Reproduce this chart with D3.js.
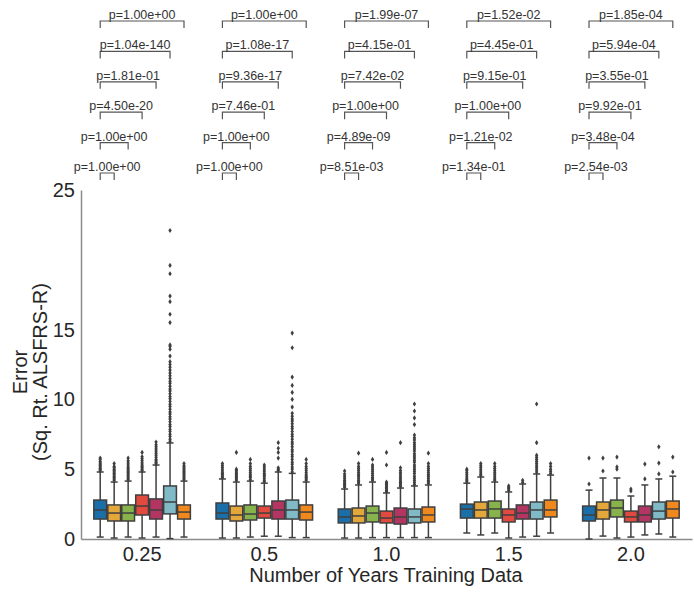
<!DOCTYPE html>
<html>
<head>
<meta charset="utf-8">
<script src="https://cdn.jsdelivr.net/npm/d3@7"></script>
<style>
  body { margin: 0; background: #fff; }
  text { font-family: "Liberation Sans", Arial, sans-serif; }
</style>
</head>
<body>
<div id="chart"></div>
<script>
var width = 694
var height = 592

// categories
var groups = ["0.25", "0.5", "1.0", "1.5", "2.0"]
var hues = ["h1", "h2", "h3", "h4", "h5", "h6", "h7"]
var colors = ["#1b6fa8", "#e3a73a", "#87b24c", "#e24a3f", "#b23562", "#7fbac6", "#f0891d"]
var yTicks = [0, 5, 10, 15, 25]

// box stats, one row per group, one value per hue
var q1 = [
  [1.43, 1.29, 1.29, 1.72, 1.43, 1.80, 1.43],
  [1.43, 1.29, 1.36, 1.50, 1.43, 1.43, 1.36],
  [1.15, 1.15, 1.22, 1.15, 1.07, 1.15, 1.22],
  [1.50, 1.50, 1.50, 1.22, 1.43, 1.43, 1.58],
  [1.29, 1.43, 1.58, 1.22, 1.22, 1.43, 1.50]
]
var med = [
  [2.08, 1.86, 1.86, 2.36, 2.08, 2.65, 1.93],
  [1.86, 1.72, 1.79, 1.86, 2.08, 2.08, 1.93],
  [1.58, 1.65, 1.86, 1.50, 1.58, 1.58, 1.72],
  [2.15, 2.08, 2.15, 1.72, 1.86, 2.08, 2.08],
  [1.72, 2.08, 2.22, 1.58, 1.72, 2.00, 2.15]
]
var q3 = [
  [2.79, 2.44, 2.44, 3.15, 2.87, 3.80, 2.44],
  [2.58, 2.36, 2.44, 2.36, 2.72, 2.79, 2.44],
  [2.15, 2.22, 2.36, 2.00, 2.22, 2.15, 2.29],
  [2.50, 2.65, 2.72, 2.15, 2.44, 2.65, 2.79],
  [2.36, 2.65, 2.79, 2.00, 2.36, 2.65, 2.72]
]
var whiskLo = [
  [0.14, 0.07, 0.14, 0.07, 0.14, 0.03, 0.14],
  [0.07, 0.07, 0.14, 0.20, 0.20, 0.10, 0.10],
  [0.07, 0.07, 0.10, 0.10, 0.10, 0.10, 0.10],
  [0.43, 0.29, 0.43, 0.07, 0.14, 0.20, 0.43],
  [0.00, 0.21, 0.07, 0.14, 0.29, 0.36, 0.14]
]
var whiskHi = [
  [4.80, 4.08, 4.15, 4.80, 5.30, 6.88, 4.15],
  [4.30, 4.08, 4.15, 4.00, 4.80, 4.70, 4.08],
  [3.58, 3.87, 4.08, 3.30, 3.65, 3.80, 3.87],
  [4.00, 4.44, 4.08, 3.37, 3.94, 4.66, 4.58],
  [3.50, 4.37, 4.37, 3.08, 3.87, 4.30, 4.50]
]
var fliers = [
  [
    [4.9, 5.0, 5.05, 5.15, 5.25, 5.35, 5.45, 5.55, 5.7, 5.8],
    [4.2, 4.3, 4.4, 4.5, 4.6, 4.7, 4.8, 4.9, 5.0, 5.1, 5.2, 5.4],
    [4.25, 4.35, 4.45, 4.55, 4.65, 4.75, 4.85, 4.95, 5.05, 5.15, 5.3, 5.45, 5.6, 5.8],
    [4.9, 5.0, 5.1, 5.2, 5.3, 5.45, 5.6, 5.75, 5.9, 6.2],
    [5.4, 5.5, 5.6, 5.7, 5.85, 6.0, 6.15, 6.3, 6.45, 6.6, 6.75, 6.95],
    [7.0, 7.15, 7.35, 7.5, 7.7, 7.85, 8.05, 8.2, 8.4, 8.6, 8.75, 8.95, 9.1, 9.3, 9.5, 9.65, 9.85,
     10.05, 10.2, 10.4, 10.6, 10.75, 10.95, 11.15, 11.3, 11.5, 11.7, 11.9, 12.1, 12.3, 12.5, 12.7,
     13.1, 13.6, 13.8, 13.9, 15.5, 16.1, 17.0, 17.4, 19.0, 19.6, 22.1],
    [4.25, 4.35, 4.45, 4.55, 4.65, 4.75, 4.85, 4.95, 5.05, 5.15, 5.25, 5.4]
  ],
  [
    [4.4, 4.5, 4.6, 4.7, 4.8, 4.95, 5.1, 5.25, 5.4],
    [4.2, 4.3, 4.4, 4.5, 4.6, 4.7, 4.8, 4.9, 5.0, 6.2],
    [4.25, 4.4, 4.5, 4.6, 4.75, 4.9, 5.05, 5.2, 5.4, 5.7],
    [4.1, 4.2, 4.35, 4.5, 4.6, 4.7, 4.85, 5.0, 5.15, 5.3],
    [4.9, 5.0, 5.1, 5.8, 6.2, 6.5, 6.9],
    [4.8, 5.0, 5.15, 5.35, 5.5, 5.7, 5.9, 6.05, 6.25, 6.4, 6.6, 6.8, 6.95, 7.15, 7.35, 7.5, 7.7,
     7.9, 8.05, 8.25, 8.45, 8.6, 8.8, 9.0, 9.45, 10.0, 10.5, 11.0, 11.6, 13.7, 14.75],
    [4.2, 4.3, 4.4, 4.5, 4.6, 4.75, 4.9, 5.05, 5.2, 5.4, 5.7]
  ],
  [
    [3.7, 3.8, 3.9, 4.0, 4.1, 4.2, 4.35, 4.5, 4.65, 4.87],
    [4.0, 4.1, 4.2, 4.35, 4.5, 4.6, 4.75, 4.9, 5.05, 5.2, 5.4, 6.15],
    [4.2, 4.3, 4.4, 4.55, 4.7, 4.85, 5.0, 5.15, 5.3, 5.7],
    [3.4, 3.5, 3.6, 3.7, 3.8, 3.9, 4.0, 4.08, 5.3, 6.2],
    [3.75, 3.85, 3.95, 4.05, 4.15, 4.3, 4.45, 4.6, 4.75, 4.9, 5.1, 6.9],
    [3.9, 4.05, 4.2, 4.35, 4.5, 4.7, 4.85, 5.0, 5.15, 5.3, 5.5, 5.65, 5.8, 5.95, 6.1, 6.3, 6.45,
     6.6, 6.75, 6.9, 7.1, 7.25, 7.45, 8.2, 8.67, 9.17, 9.67],
    [4.0, 4.1, 4.2, 4.35, 4.5, 4.6, 4.75, 4.9, 5.05, 5.2, 5.4, 6.15]
  ],
  [
    [4.1, 4.2, 4.3, 4.45, 4.6, 4.75, 4.9, 5.0],
    [4.55, 4.65, 4.8, 4.95, 5.1, 5.25, 5.4],
    [4.2, 4.3, 4.45, 4.6, 4.75, 4.9, 5.05, 5.2, 5.4],
    [3.5, 3.6, 3.7, 3.8],
    [4.05, 4.2],
    [4.8, 4.95, 5.1, 5.25, 5.4, 5.55, 5.7, 5.85, 6.0, 6.9, 9.67],
    [4.7, 4.85, 5.0, 5.2, 5.4]
  ],
  [
    [3.94, 5.8],
    [4.87, 5.8],
    [5.0, 5.16, 5.87],
    [3.44, 3.58],
    [4.3, 5.37],
    [4.66, 5.44, 6.6],
    [4.8, 5.87]
  ]
]

// p-values: first hue compared against hues 2..7, bottom bracket first
var pvals = [
  ["p=1.00e+00", "p=1.00e+00", "p=4.50e-20", "p=1.81e-01", "p=1.04e-140", "p=1.00e+00"],
  ["p=1.00e+00", "p=1.00e+00", "p=7.46e-01", "p=9.36e-17", "p=1.08e-17", "p=1.00e+00"],
  ["p=8.51e-03", "p=4.89e-09", "p=1.00e+00", "p=7.42e-02", "p=4.15e-01", "p=1.99e-07"],
  ["p=1.34e-01", "p=1.21e-02", "p=1.00e+00", "p=9.15e-01", "p=4.45e-01", "p=1.52e-02"],
  ["p=2.54e-03", "p=3.48e-04", "p=9.92e-01", "p=3.55e-01", "p=5.94e-04", "p=1.85e-04"]
]

var svg = d3.select("#chart")
    .append("svg")
    .attr("width", width)
    .attr("height", height)

var x0 = d3.scaleBand().domain(groups).range([81, 692])
var bw = x0.bandwidth()
var x1 = d3.scaleBand().domain(hues).range([0.1 * bw, 0.9 * bw])
var slot = x1.bandwidth()
var y = d3.scaleLinear().domain([0, 25]).range([539, 190])

var edge = "#3f3f3f"

// axes
var yAxis = svg.append("g")
    .attr("transform", "translate(81,0)")
    .call(d3.axisLeft(y).tickValues(yTicks).tickSize(0).tickPadding(6).tickFormat(d3.format("d")))
yAxis.select(".domain").attr("stroke", "#8c8c8c").attr("stroke-width", 1.5)
yAxis.selectAll("text").attr("font-size", 20).attr("fill", "#262626").attr("font-family", "Liberation Sans, Arial, sans-serif")

var xAxis = svg.append("g")
    .attr("transform", "translate(0,539)")
    .call(d3.axisBottom(x0).tickSize(0).tickPadding(8))
xAxis.select(".domain").attr("stroke", "#8c8c8c").attr("stroke-width", 1.5)
xAxis.selectAll("text").attr("font-size", 20).attr("fill", "#262626").attr("font-family", "Liberation Sans, Arial, sans-serif")

svg.append("text")
    .attr("x", 386).attr("y", 582)
    .attr("text-anchor", "middle")
    .attr("font-size", 20).attr("fill", "#262626")
    .text("Number of Years Training Data")

var ylab = svg.append("text")
    .attr("transform", "translate(27,372) rotate(-90)")
    .attr("text-anchor", "middle")
    .attr("font-size", 20).attr("fill", "#262626")
ylab.append("tspan").attr("x", 0).attr("y", 0).text("Error")
ylab.append("tspan").attr("x", 0).attr("y", 20).text("(Sq. Rt. ALSFRS-R)")

// boxes
var boxes = []
groups.forEach(function(g, gi) {
  hues.forEach(function(h, hi) {
    boxes.push({g: g, h: h, hi: hi, q1: q1[gi][hi], med: med[gi][hi], q3: q3[gi][hi],
      lo: whiskLo[gi][hi], hi2: whiskHi[gi][hi], fl: fliers[gi][hi]})
  })
})

var bg = svg.selectAll("g.box")
    .data(boxes)
    .enter()
    .append("g")
    .attr("class", "box")
    .attr("transform", function(d) { return "translate(" + (x0(d.g) + x1(d.h)) + ",0)" })

var cx = slot / 2
var cap = slot / 4

bg.append("line")
    .attr("x1", cx).attr("x2", cx)
    .attr("y1", function(d) { return y(d.q3) }).attr("y2", function(d) { return y(d.hi2) })
    .attr("stroke", edge).attr("stroke-width", 1.5)
bg.append("line")
    .attr("x1", cx).attr("x2", cx)
    .attr("y1", function(d) { return y(d.q1) }).attr("y2", function(d) { return y(d.lo) })
    .attr("stroke", edge).attr("stroke-width", 1.5)
bg.append("line")
    .attr("x1", cx - cap).attr("x2", cx + cap)
    .attr("y1", function(d) { return y(d.hi2) }).attr("y2", function(d) { return y(d.hi2) })
    .attr("stroke", edge).attr("stroke-width", 1.5)
bg.append("line")
    .attr("x1", cx - cap).attr("x2", cx + cap)
    .attr("y1", function(d) { return y(d.lo) }).attr("y2", function(d) { return y(d.lo) })
    .attr("stroke", edge).attr("stroke-width", 1.5)
bg.append("rect")
    .attr("x", 0.6).attr("width", slot - 1.2)
    .attr("y", function(d) { return y(d.q3) })
    .attr("height", function(d) { return y(d.q1) - y(d.q3) })
    .attr("fill", function(d) { return colors[d.hi] })
    .attr("stroke", edge).attr("stroke-width", 1.5)
bg.append("line")
    .attr("x1", 0.6).attr("x2", slot - 0.6)
    .attr("y1", function(d) { return y(d.med) }).attr("y2", function(d) { return y(d.med) })
    .attr("stroke", edge).attr("stroke-width", 1.5)

bg.selectAll("path.flier")
    .data(function(d) { return d.fl })
    .enter()
    .append("path")
    .attr("class", "flier")
    .attr("d", "M0,-2.6L1.7,0L0,2.6L-1.7,0Z")
    .attr("transform", function(v) { return "translate(" + cx + "," + y(v) + ")" })
    .attr("fill", edge)

// significance brackets above the plot
var brk = []
groups.forEach(function(g, gi) {
  pvals[gi].forEach(function(p, k) {
    brk.push({g: g, k: k, p: p})
  })
})
var plotTop = y(25)
var bgrp = svg.selectAll("g.brk")
    .data(brk)
    .enter()
    .append("g")
    .attr("class", "brk")
bgrp.append("path")
    .attr("d", function(d) {
      var xa = x0(d.g) + x1(hues[0]) + cx
      var xb = x0(d.g) + x1(hues[d.k + 1]) + cx
      var ly = plotTop - 17 - d.k * 30.4
      return "M" + xa + "," + (ly + 7) + "L" + xa + "," + ly + "L" + xb + "," + ly + "L" + xb + "," + (ly + 7)
    })
    .attr("fill", "none").attr("stroke", "#555").attr("stroke-width", 1.2)
bgrp.append("text")
    .attr("x", function(d) {
      return x0(d.g) + (x1(hues[0]) + x1(hues[d.k + 1])) / 2 + cx
    })
    .attr("y", function(d) { return plotTop - 19 - d.k * 30.4 })
    .attr("text-anchor", "middle")
    .attr("font-size", 12.5).attr("fill", "#333")
    .text(function(d) { return d.p })
</script>
</body>
</html>
